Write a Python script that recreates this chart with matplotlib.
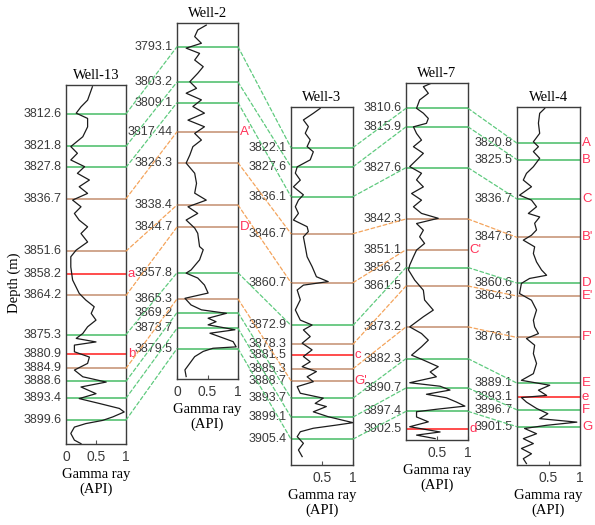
"""
Well correlation panel: gamma ray logs of five wells with the
correlated horizons joined by dashed lines.
Output: out.png
"""

import matplotlib
matplotlib.use("Agg")
import matplotlib.pyplot as plt
from matplotlib.patches import ConnectionPatch

# colours
GREEN = "#55c172"
BROWN = "#c8977a"
RED = "#ff2e2e"
GREEN_DASH = "#5fca7e"
ORANGE_DASH = "#f4a45c"
TAG_RED = "#ff3358"
LABEL_GREY = "#3a3a3a"
KIND_COLOR = {"g": GREEN, "b": BROWN, "r": RED}
DASH_COLOR = {"g": GREEN_DASH, "b": ORANGE_DASH, "r": RED}

# ---- Well-13
W13_DEPTH = [3804.9, 3808.7, 3810.6, 3812.4, 3813.9, 3816.3, 3819.1, 3821.9, 3823.8, 3825.7,
             3827.6, 3829.5, 3831.4, 3833.3, 3835.2, 3837.1, 3839.0, 3840.9, 3842.8, 3844.7,
             3846.6, 3849.0, 3851.3, 3853.2, 3856.1, 3859.8, 3863.6, 3865.5, 3867.4, 3869.3,
             3871.2, 3873.1, 3875.0, 3876.4, 3877.4, 3878.3, 3880.2, 3881.7, 3883.5, 3885.4,
             3887.3, 3888.8, 3890.2, 3892.1, 3893.5, 3894.9, 3896.3, 3897.3, 3898.7, 3899.7,
             3900.6, 3901.6, 3903.4, 3905.3, 3906.3]
W13_GR = [0.44, 0.36, 0.25, 0.17, 0.36, 0.36, 0.28, 0.08, 0.19, 0.08,
          0.31, 0.19, 0.39, 0.22, 0.36, 0.11, 0.25, 0.14, 0.22, 0.36,
          0.25, 0.36, 0.17, 0.08, 0.08, 0.11, 0.22, 0.33, 0.47, 0.42,
          0.50, 0.36, 0.28, 0.17, 0.50, 0.14, 0.14, 0.39, 0.36, 0.14,
          0.28, 0.67, 0.25, 0.50, 0.22, 0.56, 0.89, 0.97, 0.78, 0.61,
          0.33, 0.14, 0.08, 0.14, 0.25]
W13_TOPS = [3812.6, 3821.8, 3827.8, 3836.7, 3851.6, 3858.2, 3864.2, 3875.3, 3880.9,
            3884.9, 3888.6, 3893.4, 3899.6]
W13_KIND = "gggbbrbgrbggg"
W13_TAGS = {3858.2: "a", 3880.9: "b"}

# ---- Well-2
W2_DEPTH = [3786.9, 3788.3, 3790.2, 3792.1, 3793.5, 3795.0, 3796.9, 3798.8, 3800.7, 3803.1,
            3805.0, 3806.4, 3808.3, 3810.2, 3812.1, 3814.1, 3816.0, 3817.9, 3819.8, 3821.7,
            3824.1, 3826.4, 3829.3, 3832.2, 3835.0, 3837.0, 3838.9, 3840.8, 3842.7, 3845.0,
            3846.5, 3850.3, 3851.2, 3854.1, 3857.0, 3857.9, 3859.3, 3861.3, 3863.6, 3865.1,
            3867.0, 3868.4, 3869.4, 3870.8, 3871.8, 3872.7, 3874.1, 3875.1, 3876.1, 3877.5,
            3879.0, 3879.4, 3880.3, 3881.8, 3883.7, 3885.6, 3887.5]
W2_GR = [0.48, 0.34, 0.29, 0.40, 0.15, 0.37, 0.29, 0.43, 0.34, 0.21,
         0.32, 0.15, 0.40, 0.26, 0.45, 0.18, 0.45, 0.29, 0.40, 0.26,
         0.21, 0.15, 0.29, 0.32, 0.29, 0.48, 0.18, 0.34, 0.15, 0.29,
         0.34, 0.37, 0.43, 0.37, 0.23, 0.15, 0.34, 0.45, 0.51, 0.13,
         0.23, 0.40, 0.81, 0.51, 0.64, 0.51, 0.95, 0.54, 0.70, 0.92,
         0.97, 0.59, 0.43, 0.29, 0.21, 0.13, 0.15]
W2_TOPS = [3793.1, 3803.2, 3809.1, 3817.44, 3826.3, 3838.4, 3844.7, 3857.8, 3865.3,
           3869.2, 3873.7, 3879.5]
W2_KIND = "gggbbbbgbggg"
W2_TAGS = {3817.44: "A'", 3844.7: "D'"}

# ---- Well-3
W3_DEPTH = [3810.9, 3812.3, 3814.2, 3816.1, 3818.0, 3819.9, 3821.8, 3823.3, 3825.6, 3827.6,
            3829.4, 3831.4, 3833.3, 3835.6, 3837.1, 3839.0, 3840.9, 3842.8, 3844.7, 3846.1,
            3847.6, 3850.4, 3853.3, 3856.1, 3859.0, 3860.4, 3861.4, 3862.8, 3865.6, 3868.5,
            3871.4, 3872.8, 3874.2, 3876.1, 3878.0, 3879.9, 3881.8, 3883.3, 3884.7, 3886.1,
            3887.6, 3889.0, 3890.4, 3892.3, 3893.7, 3895.2, 3896.1, 3897.6, 3899.0, 3899.9,
            3900.7, 3901.4, 3902.3, 3903.3, 3904.7, 3906.6, 3908.5, 3910.4]
W3_GR = [0.47, 0.36, 0.20, 0.28, 0.23, 0.31, 0.26, 0.36, 0.31, 0.10,
         0.07, 0.15, 0.04, 0.20, 0.12, 0.07, 0.12, 0.04, 0.26, 0.28,
         0.20, 0.23, 0.26, 0.34, 0.41, 0.60, 0.20, 0.10, 0.15, 0.07,
         0.15, 0.34, 0.20, 0.31, 0.18, 0.34, 0.20, 0.31, 0.18, 0.41,
         0.26, 0.36, 0.10, 0.15, 0.52, 0.39, 0.57, 0.36, 0.60, 0.81,
         1.00, 0.73, 0.36, 0.15, 0.10, 0.20, 0.12, 0.18]
W3_TOPS = [3822.1, 3827.6, 3836.1, 3846.7, 3860.7, 3872.9, 3878.3, 3881.5, 3885.3,
           3888.7, 3893.7, 3899.1, 3905.4]
W3_KIND = "gggbbgbrbbggg"
W3_TAGS = {3881.5: "c", 3888.7: "G'"}

# ---- Well-7
W7_DEPTH = [3803.4, 3804.4, 3806.3, 3808.2, 3810.6, 3812.0, 3813.5, 3814.9, 3815.9, 3817.8,
            3819.7, 3821.6, 3823.5, 3825.4, 3827.3, 3829.2, 3831.1, 3833.1, 3835.0, 3836.9,
            3838.8, 3840.7, 3842.1, 3843.6, 3845.5, 3847.4, 3849.3, 3851.2, 3853.1, 3855.5,
            3856.9, 3859.8, 3862.7, 3865.5, 3868.4, 3870.3, 3873.2, 3875.1, 3877.0, 3878.9,
            3881.3, 3882.7, 3884.6, 3886.1, 3887.5, 3889.2, 3890.2, 3891.3, 3892.5, 3893.5,
            3894.7, 3895.9, 3896.8, 3897.5, 3899.0, 3900.4, 3901.8, 3903.3, 3904.2, 3905.2]
W7_GR = [0.41, 0.28, 0.36, 0.22, 0.17, 0.28, 0.36, 0.33, 0.12, 0.17,
         0.25, 0.12, 0.28, 0.17, 0.06, 0.25, 0.17, 0.28, 0.09, 0.25,
         0.12, 0.25, 0.52, 0.17, 0.28, 0.22, 0.30, 0.17, 0.12, 0.06,
         0.04, 0.14, 0.28, 0.30, 0.44, 0.28, 0.06, 0.25, 0.36, 0.25,
         0.09, 0.28, 0.52, 0.39, 0.49, 0.06, 0.55, 0.71, 0.33, 0.65,
         0.81, 0.95, 0.49, 0.17, 0.17, 0.36, 0.06, 0.55, 0.17, 0.47]
W7_TOPS = [3810.6, 3815.9, 3827.6, 3842.3, 3851.1, 3856.2, 3861.5, 3873.2, 3882.3,
           3890.7, 3897.4, 3902.5]
W7_KIND = "gggbbgbbgggr"
W7_TAGS = {3851.1: "C'", 3902.5: "d"}

# ---- Well-4
W4_DEPTH = [3810.9, 3812.3, 3815.1, 3818.0, 3820.4, 3821.8, 3823.2, 3825.1, 3827.5, 3829.4,
            3831.3, 3833.2, 3835.6, 3837.0, 3838.9, 3840.8, 3841.8, 3843.6, 3845.5, 3847.0,
            3848.4, 3850.3, 3852.2, 3854.6, 3856.9, 3858.4, 3859.3, 3860.7, 3863.6, 3865.5,
            3868.3, 3871.2, 3873.1, 3875.0, 3876.4, 3878.3, 3880.7, 3883.5, 3886.4, 3888.3,
            3889.7, 3891.1, 3892.6, 3893.2, 3894.5, 3896.3, 3897.8, 3899.2, 3900.2, 3901.1,
            3902.0, 3903.5, 3904.9, 3906.3, 3907.7, 3909.2, 3910.6, 3912.0]
W4_GR = [0.44, 0.36, 0.34, 0.36, 0.26, 0.34, 0.26, 0.36, 0.26, 0.15,
         0.10, 0.23, 0.04, 0.23, 0.31, 0.18, 0.36, 0.28, 0.31, 0.23,
         0.10, 0.28, 0.26, 0.31, 0.39, 0.47, 0.20, 0.07, 0.04, 0.23,
         0.31, 0.26, 0.28, 0.34, 0.15, 0.28, 0.26, 0.31, 0.26, 0.07,
         0.52, 0.34, 0.47, 0.07, 0.15, 0.31, 0.49, 0.36, 0.95, 0.47,
         0.12, 0.31, 0.10, 0.26, 0.07, 0.23, 0.10, 0.15]
W4_TOPS = [3820.8, 3825.5, 3836.7, 3847.6, 3860.6, 3864.3, 3876.1, 3889.1, 3893.1,
           3896.7, 3901.5]
W4_KIND = "gggbgbbgrgg"
W4_TAGS = {3820.8: "A", 3825.5: "B", 3836.7: "C", 3847.6: "B'", 3860.6: "D",
           3864.3: "E'", 3876.1: "F'", 3889.1: "E", 3893.1: "e", 3896.7: "F", 3901.5: "G"}

# ---- correlations (left well depth, right well depth)
LINK_13_2 = [(3812.6, 3793.1), (3821.8, 3803.2), (3827.8, 3809.1), (3836.7, 3817.44),
             (3851.6, 3838.4), (3864.2, 3844.7), (3875.3, 3857.8), (3884.9, 3865.3),
             (3888.6, 3869.2), (3893.4, 3873.7), (3899.6, 3879.5)]
LINK_2_3 = [(3793.1, 3822.1), (3803.2, 3827.6), (3809.1, 3836.1), (3826.3, 3846.7),
            (3838.4, 3860.7), (3857.8, 3872.9), (3865.3, 3888.7), (3869.2, 3893.7),
            (3873.7, 3899.1), (3879.5, 3905.4)]
LINK_3_7 = [(3822.1, 3810.6), (3827.6, 3815.9), (3836.1, 3827.6), (3846.7, 3842.3),
            (3860.7, 3851.1), (3872.9, 3856.2), (3878.3, 3861.5), (3885.3, 3873.2),
            (3893.7, 3882.3), (3899.1, 3890.7), (3905.4, 3897.4)]
LINK_7_4 = [(3810.6, 3820.8), (3815.9, 3825.5), (3827.6, 3836.7), (3842.3, 3847.6),
            (3856.2, 3860.6), (3861.5, 3864.3), (3873.2, 3876.1), (3882.3, 3889.1),
            (3890.7, 3896.7), (3897.4, 3901.5)]

W, H = 595, 525

# panel boxes in pixels (x0, y0, x1, y1) and depth window (top, bottom)
WELLS = [
    ("Well-13", (66, 85, 126, 444), (3804.4, 3906.4), W13_DEPTH, W13_GR, W13_TOPS, W13_KIND, W13_TAGS, [0, 0.5, 1]),
    ("Well-2", (177, 23, 238, 379), (3786.3, 3888.2), W2_DEPTH, W2_GR, W2_TOPS, W2_KIND, W2_TAGS, [0, 0.5, 1]),
    ("Well-3", (291, 107, 353, 465), (3810.5, 3912.8), W3_DEPTH, W3_GR, W3_TOPS, W3_KIND, W3_TAGS, [0.5, 1]),
    ("Well-7", (406, 83, 468, 440), (3803.35, 3905.6), W7_DEPTH, W7_GR, W7_TOPS, W7_KIND, W7_TAGS, [0.5, 1]),
    ("Well-4", (517, 107, 580, 465), (3810.5, 3912.4), W4_DEPTH, W4_GR, W4_TOPS, W4_KIND, W4_TAGS, [0.5, 1]),
]

SERIF = "Liberation Serif"
SANS = "Liberation Sans"

fig = plt.figure(figsize=(W / 100, H / 100), dpi=100)

axes = []
kinds = []
for name, box, dwin, depth, gr, tops, kind, tags, xt in WELLS:
    x0, y0, x1, y1 = box
    ax = fig.add_axes([x0 / W, 1 - y1 / H, (x1 - x0) / W, (y1 - y0) / H])
    ax.set_xlim(0, 1)
    ax.set_ylim(dwin[1], dwin[0])

    for d, k in zip(tops, kind):
        ax.axhline(d, color=KIND_COLOR[k], lw=1.2, zorder=1)
        ax.text(-0.07, d, str(d), transform=ax.get_yaxis_transform(), ha="right",
                va="center", fontsize=9, family=SANS, color=LABEL_GREY, clip_on=False)
        if d in tags:
            ax.text(1.03, d, tags[d], transform=ax.get_yaxis_transform(), ha="left",
                    va="center", fontsize=9.5, family=SANS, color=TAG_RED, clip_on=False)

    ax.plot(gr, depth, color="#1c1c1c", lw=0.9, zorder=2)

    ax.set_yticks([])
    ax.set_xticks(xt)
    ax.set_xticklabels([f"{t:g}" for t in xt], fontsize=10, family=SANS, color=LABEL_GREY)
    ax.tick_params(axis="x", direction="in", length=3, pad=4, color="#555555")
    for sp in ax.spines.values():
        sp.set_color("#3c3c3c")
        sp.set_linewidth(1.0)
    ax.set_title(name, fontsize=10.5, family=SERIF, pad=4)
    ax.set_xlabel("Gamma ray\n(API)", fontsize=10.5, family=SERIF, labelpad=3)
    axes.append(ax)
    kinds.append(dict(zip(tops, kind)))

# dashed correlation lines between neighbouring wells
for i, links in enumerate([LINK_13_2, LINK_2_3, LINK_3_7, LINK_7_4]):
    axA, axB = axes[i], axes[i + 1]
    for dA, dB in links:
        con = ConnectionPatch(xyA=(1, dA), coordsA=axA.get_yaxis_transform(),
                              xyB=(0, dB), coordsB=axB.get_yaxis_transform(),
                              color=DASH_COLOR[kinds[i][dA]], lw=0.9,
                              linestyle=(0, (3, 2)))
        fig.add_artist(con)

fig.text(14 / W, 1 - 283 / H, "Depth (m)", rotation=90, ha="center", va="center",
         fontsize=10.5, family=SERIF)

fig.savefig("out.png", dpi=100)
